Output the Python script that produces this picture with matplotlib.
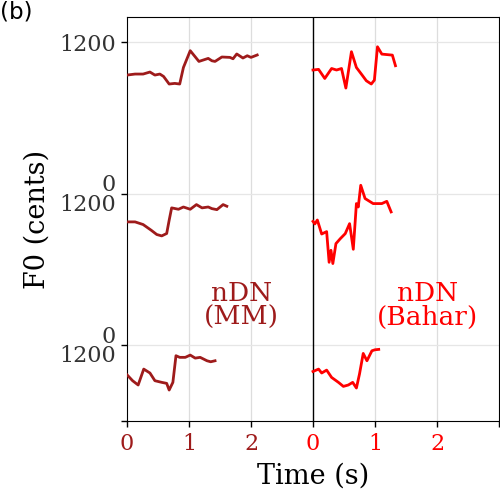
import matplotlib
matplotlib.use("Agg")
import matplotlib.pyplot as plt
import numpy as np

# ---- data (time in s, F0 in cents) ----
mm1_t = [0.0, 0.13, 0.26, 0.37, 0.45, 0.53, 0.59, 0.68, 0.77, 0.85, 0.91, 1.02, 1.16, 1.31, 1.37, 1.42, 1.53, 1.66, 1.71, 1.77, 1.87, 1.94, 2.0, 2.10]
mm1_c = [940, 948, 948, 964, 940, 948, 929, 869, 874, 869, 1000, 1133, 1048, 1072, 1053, 1048, 1083, 1080, 1069, 1107, 1075, 1093, 1080, 1099]

mm2_t = [0.0, 0.13, 0.26, 0.39, 0.48, 0.56, 0.64, 0.68, 0.72, 0.83, 0.91, 1.02, 1.12, 1.21, 1.31, 1.37, 1.45, 1.55, 1.61]
mm2_c = [977, 977, 956, 911, 877, 866, 885, 990, 1088, 1077, 1095, 1077, 1114, 1088, 1095, 1082, 1074, 1114, 1101]

mm3_t = [0.0, 0.09, 0.18, 0.27, 0.37, 0.45, 0.56, 0.64, 0.68, 0.74, 0.79, 0.85, 0.94, 1.02, 1.10, 1.18, 1.29, 1.35, 1.42]
mm3_c = [966, 919, 885, 1011, 980, 919, 906, 898, 845, 906, 1117, 1104, 1104, 1122, 1098, 1104, 1077, 1069, 1077]

bh1_t = [0.0, 0.09, 0.19, 0.30, 0.38, 0.46, 0.53, 0.62, 0.70, 0.78, 0.86, 0.94, 0.99, 1.04, 1.11, 1.28, 1.33]
bh1_c = [980, 985, 913, 992, 980, 992, 837, 1125, 1000, 948, 895, 869, 900, 1164, 1106, 1098, 1014]

bh2_t = [0.0, 0.03, 0.07, 0.14, 0.22, 0.26, 0.29, 0.32, 0.37, 0.44, 0.52, 0.59, 0.65, 0.70, 0.73, 0.77, 0.84, 0.97, 1.11, 1.19, 1.26]
bh2_c = [981, 961, 992, 881, 900, 657, 752, 647, 805, 844, 884, 963, 760, 1122, 1095, 1267, 1162, 1122, 1122, 1140, 1056]

bh3_t = [0.0, 0.09, 0.14, 0.22, 0.30, 0.41, 0.49, 0.57, 0.64, 0.70, 0.75, 0.81, 0.87, 0.95, 1.0, 1.06]
bh3_c = [992, 1011, 980, 1003, 945, 906, 874, 885, 906, 861, 972, 1135, 1077, 1156, 1164, 1167]

row_offsets = [2400, 1200, 0]
panel_offsets = [0, 3]
ytick_pos = [3600, 2400, 1200, 600]
ytick_labels = ["1200", "0\n1200", "0\n1200", ""]
xtick_labels = ["0", "1", "2", "0", "1", "2", ""]

c_mm = "#9E1B1B"
c_bh = "#FF0000"

fig = plt.figure(figsize=(5.0, 4.91), dpi=100)
ax = fig.add_axes([0.254, 0.1426, 0.744, 0.8228])

mm = [(mm1_t, mm1_c), (mm2_t, mm2_c), (mm3_t, mm3_c)]
bh = [(bh1_t, bh1_c), (bh2_t, bh2_c), (bh3_t, bh3_c)]
for (t, c), off in zip(mm, row_offsets):
    ax.plot(np.array(t) + panel_offsets[0], np.array(c) + off, color=c_mm, lw=2.0, zorder=3)
for (t, c), off in zip(bh, row_offsets):
    ax.plot(np.array(t) + panel_offsets[1], np.array(c) + off, color=c_bh, lw=2.0, zorder=3)

ax.set_xlim(0, 6)
ax.set_ylim(600, 3800)
ax.set_xticks(range(7))
ax.set_xticklabels(xtick_labels, family="DejaVu Serif", fontsize=16)
for i, lab in enumerate(ax.get_xticklabels()):
    lab.set_color(c_mm if i < 3 else c_bh)
ax.set_yticks(ytick_pos)
ax.set_yticklabels(ytick_labels, family="DejaVu Serif", fontsize=16, color="#333333")
for lab in ax.get_yticklabels():
    lab.set_linespacing(0.85)
ax.tick_params(axis="y", length=4, width=1, pad=4)
ax.tick_params(axis="x", length=4, width=1, pad=5)

for x in [1, 2, 4, 5]:
    ax.axvline(x, color="#dddddd", lw=0.9, zorder=1)
for y in [3600, 2400, 1200]:
    ax.axhline(y, color="#e6e6e6", lw=0.9, zorder=1)
ax.axvline(3, color="black", lw=1.0, zorder=2)

ax.text(1.85, 1513, "nDN\n(MM)", color=c_mm, family="DejaVu Serif", fontsize=19,
        ha="center", va="center", linespacing=0.95)
ax.text(4.85, 1513, "nDN\n(Bahar)", color=c_bh, family="DejaVu Serif", fontsize=19,
        ha="center", va="center", linespacing=0.95)

ax.set_xlabel("Time (s)", family="DejaVu Serif", fontsize=19.5, labelpad=5)
ax.set_ylabel("F0 (cents)", family="DejaVu Serif", fontsize=19.5, labelpad=6)

fig.text(0.0, 0.998, "(b)", family="DejaVu Sans", fontsize=16.5, ha="left", va="top")

fig.savefig("out.png", dpi=100)
